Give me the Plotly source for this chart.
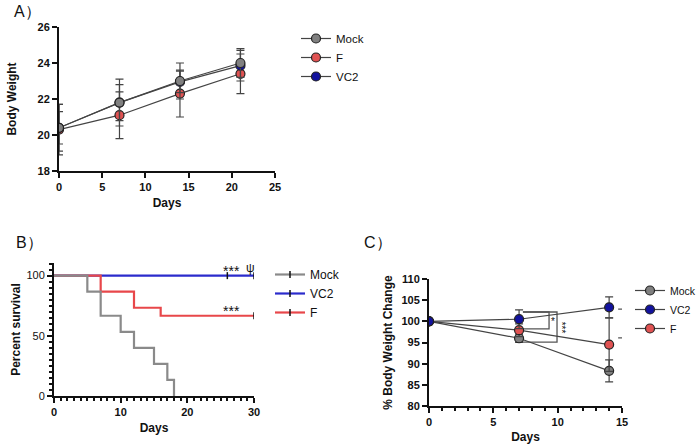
import plotly.graph_objects as go

# ---------- Panel A data ----------
days_a = [0, 7, 14, 21]
a_mock = [20.4, 21.8, 23.0, 24.0]
a_mock_err = [1.3, 1.3, 1.0, 0.8]
a_f = [20.3, 21.1, 22.3, 23.4]
a_f_err = [1.4, 1.3, 1.3, 1.1]
a_vc2 = [20.4, 21.8, 22.95, 23.85]
a_vc2_err = [0.9, 1.0, 0.6, 0.85]

# ---------- Panel B data (survival) ----------
b_mock_x = [0, 5, 7, 10, 12, 15, 17, 18]
b_mock_y = [100, 86.67, 66.67, 53.33, 40, 26.67, 13.33, 0]
b_f_x = [0, 7, 12, 16, 30]
b_f_y = [100, 86.67, 73.33, 66.67, 66.67]
b_vc2_x = [0, 30]
b_vc2_y = [100, 100]
b_vc2_cens_x = [26, 30]
b_vc2_cens_y = [100, 100]
b_f_cens_x = [30]
b_f_cens_y = [66.67]

# ---------- Panel C data ----------
days_c = [0, 7, 14]
c_mock = [100, 96.0, 88.3]
c_mock_err = [0, 1.0, 2.6]
c_vc2 = [100, 100.5, 103.3]
c_vc2_err = [0, 2.2, 2.5]
c_f = [100, 97.9, 94.5]
c_f_err = [0, 1.5, 6.3]

# significance brackets in panel C: (x_left, x_right, y_top, y_bottom)
brackets = [(7.3, 9.33, 102.2, 98.2), (7.3, 9.95, 102.2, 95.1),
            (14.7, 15.15, 102.9, 96.1), (15.6, 16.1, 102.9, 88.5)]
bracket_labels = [(9.6, 99.9, "*"), (10.3, 98.6, "***"),
                  (15.45, 99.6, "*"), (16.4, 96.6, "***")]

GREY = "#808080"
RED = "#e05252"
BLUE = "#12129e"
S_GREY = "#8a8a8a"
S_RED = "#e8474a"
S_BLUE = "#2b2bcc"
FONT = "Liberation Sans, Arial, sans-serif"

fig = go.Figure()


def err_trace(x, y, err, color, name, xa, ya, legend, rank):
    return go.Scatter(
        x=x, y=y, name=name, mode="lines+markers",
        xaxis=xa, yaxis=ya, legend=legend, legendrank=rank,
        line=dict(color="#444444", width=1.2),
        marker=dict(color=color, size=9, line=dict(color="#222222", width=1.2)),
        error_y=dict(type="data", array=err, visible=True, color="#444444",
                     thickness=1.2, width=4),
    )


# Panel A
fig.add_trace(err_trace(days_a, a_f, a_f_err, RED, "F", "x", "y", "legend", 2))
fig.add_trace(err_trace(days_a, a_vc2, a_vc2_err, BLUE, "VC2", "x", "y", "legend", 3))
fig.add_trace(err_trace(days_a, a_mock, a_mock_err, GREY, "Mock", "x", "y", "legend", 1))

# Panel B
fig.add_trace(go.Scatter(x=b_vc2_x, y=b_vc2_y, mode="lines", line_shape="hv",
                         line=dict(color=S_BLUE, width=2.2), xaxis="x2", yaxis="y2",
                         showlegend=False))
fig.add_trace(go.Scatter(x=b_f_x, y=b_f_y, mode="lines", line_shape="hv",
                         line=dict(color=S_RED, width=2.2), xaxis="x2", yaxis="y2",
                         showlegend=False))
fig.add_trace(go.Scatter(x=b_mock_x, y=b_mock_y, mode="lines", line_shape="hv",
                         line=dict(color=S_GREY, width=2.2), xaxis="x2", yaxis="y2",
                         showlegend=False))
fig.add_trace(go.Scatter(x=b_vc2_cens_x, y=b_vc2_cens_y, mode="markers",
                         marker=dict(symbol="line-ns", size=5,
                                     line=dict(color="#111111", width=1.5)),
                         xaxis="x2", yaxis="y2", showlegend=False))
fig.add_trace(go.Scatter(x=b_f_cens_x, y=b_f_cens_y, mode="markers",
                         marker=dict(symbol="line-ns", size=5,
                                     line=dict(color="#111111", width=1.5)),
                         xaxis="x2", yaxis="y2", showlegend=False))
for rk, (nm, col) in enumerate([("Mock", S_GREY), ("VC2", S_BLUE), ("F", S_RED)]):
    fig.add_trace(go.Scatter(x=[None], y=[None], name=nm, mode="lines+markers",
                             line=dict(color=col, width=2.2),
                             marker=dict(symbol="line-ns", size=5,
                                         line=dict(color="#111111", width=1.5)),
                             xaxis="x2", yaxis="y2", legend="legend2",
                             legendrank=rk + 1))

# Panel C brackets
for (x0, x1, yt, yb) in brackets:
    fig.add_trace(go.Scatter(x=[x0, x1, x1, x0], y=[yt, yt, yb, yb], mode="lines",
                             line=dict(color="#555555", width=1.3),
                             xaxis="x3", yaxis="y3", showlegend=False,
                             cliponaxis=False))
fig.add_trace(err_trace(days_c, c_mock, c_mock_err, GREY, "Mock", "x3", "y3", "legend3", 1))
fig.add_trace(err_trace(days_c, c_f, c_f_err, RED, "F", "x3", "y3", "legend3", 3))
fig.add_trace(err_trace(days_c, c_vc2, c_vc2_err, BLUE, "VC2", "x3", "y3", "legend3", 2))

tickfont = dict(family=FONT, size=11, color="#111111")
titlefont = dict(family=FONT, size=12, color="#111111")


def axis(**kw):
    base = dict(showline=True, linecolor="#111111", linewidth=2, ticks="outside",
                ticklen=5, tickwidth=2, tickcolor="#111111", showgrid=False,
                zeroline=False, tickfont=tickfont, fixedrange=True,
                tickprefix="<b>", ticksuffix="</b>")
    base.update(kw)
    return base


def minor(d):
    return dict(dtick=d, ticks="outside", ticklen=3, tickwidth=1.5, tickcolor="#111111")


fig.update_layout(
    width=700, height=444, margin=dict(l=0, r=0, t=0, b=0, autoexpand=False),
    paper_bgcolor="white", plot_bgcolor="white",
    font=dict(family=FONT, color="#111111"),
    xaxis=axis(domain=[59 / 700, 275 / 700], anchor="y", range=[0, 25], dtick=5,
               title=dict(text="<b>Days</b>", font=titlefont, standoff=6)),
    yaxis=axis(domain=[1 - 171 / 444, 1 - 27 / 444], anchor="x", range=[18, 26], dtick=2,
               title=dict(text="<b>Body Weight</b>", font=titlefont, standoff=18)),
    xaxis2=axis(domain=[54 / 700, 254 / 700], anchor="y2", range=[0, 30], dtick=10,
                minor=minor(1),
                title=dict(text="<b>Days</b>", font=titlefont, standoff=6)),
    yaxis2=axis(domain=[1 - 396 / 444, 1 - 263 / 444], anchor="x2", range=[0, 110.5],
                tickvals=[0, 50, 100], minor=minor(5),
                title=dict(text="<b>Percent survival</b>", font=titlefont, standoff=3)),
    xaxis3=axis(domain=[429 / 700, 622 / 700], anchor="y3", range=[0, 15], dtick=5,
                minor=minor(1),
                title=dict(text="<b>Days</b>", font=titlefont, standoff=6)),
    yaxis3=axis(domain=[1 - 406 / 444, 1 - 279 / 444], anchor="x3", range=[80, 110],
                dtick=5,
                title=dict(text="<b>% Body Weight Change</b>", font=titlefont, standoff=6)),
    legend=dict(x=296 / 700, y=1 - 24 / 444, xanchor="left", yanchor="top",
                font=dict(family=FONT, size=11.5), itemwidth=30, tracegroupgap=0,
                bgcolor="rgba(0,0,0,0)"),
    legend2=dict(x=270 / 700, y=1 - 260 / 444, xanchor="left", yanchor="top",
                 font=dict(family=FONT, size=12), itemwidth=30, tracegroupgap=0,
                 bgcolor="rgba(0,0,0,0)"),
    legend3=dict(x=630 / 700, y=1 - 276 / 444, xanchor="left", yanchor="top",
                 font=dict(family=FONT, size=10.5), itemwidth=30, tracegroupgap=0,
                 bgcolor="rgba(0,0,0,0)"),
)

ann = [
    dict(text="A）", x=12 / 700, y=1 - 12 / 444),
    dict(text="B）", x=14 / 700, y=1 - 243 / 444),
    dict(text="C）", x=362 / 700, y=1 - 243 / 444),
]
for a in ann:
    fig.add_annotation(text=a["text"], x=a["x"], y=a["y"], xref="paper", yref="paper",
                       xanchor="left", yanchor="middle", showarrow=False,
                       font=dict(family=FONT, size=16, color="#111111"))

# significance text panel B
fig.add_annotation(text="***", x=26.6, y=100, xref="x2", yref="y2", showarrow=False,
                   yanchor="bottom", yshift=-5, font=dict(family=FONT, size=14, color="#111111"))
fig.add_annotation(text="ψ", x=29.4, y=100, xref="x2", yref="y2", showarrow=False,
                   yanchor="bottom", yshift=-1, font=dict(family=FONT, size=12, color="#111111"))
fig.add_annotation(text="***", x=26.6, y=66.67, xref="x2", yref="y2", showarrow=False,
                   yanchor="bottom", yshift=-5, font=dict(family=FONT, size=14, color="#111111"))

for (x, y, t) in bracket_labels:
    fig.add_annotation(text=t, x=x, y=y, xref="x3", yref="y3", showarrow=False,
                       textangle=90 if len(t) > 1 else 0,
                       font=dict(family=FONT, size=10, color="#111111"))

fig.write_html("out.html", config={"displayModeBar": False},
               post_script="document.body.style.margin='0';"
                           "document.body.style.overflow='hidden';")
